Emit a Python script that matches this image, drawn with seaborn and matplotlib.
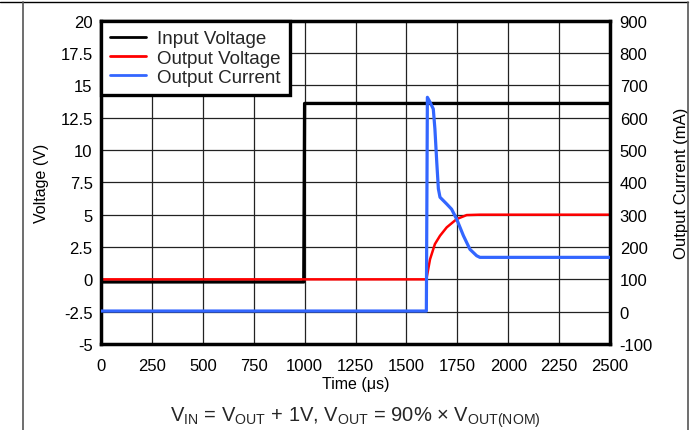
import matplotlib
matplotlib.use("Agg")
import matplotlib.pyplot as plt
import seaborn as sns
from matplotlib.lines import Line2D

# Data
t_in = [0, 996, 1000, 2500]                       # us
v_in = [-0.2, -0.2, 13.6, 13.6]                   # V

t_out = [0, 1598, 1616, 1640, 1665, 1698, 1747, 1796, 1861, 2500]
v_out = [0, 0, 1.55, 2.73, 3.37, 4.02, 4.66, 4.97, 5.0, 5.0]

t_cur = [0, 1598, 1603, 1616, 1632, 1640, 1649, 1657, 1665, 1698, 1722,
         1747, 1780, 1812, 1845, 1861, 2500]
i_cur = [2, 2, 663, 648, 627, 565, 463, 380, 354, 333, 317,
         286, 235, 193, 173, 168, 168]             # mA

v_ticks = [-5, -2.5, 0, 2.5, 5, 7.5, 10, 12.5, 15, 17.5, 20]
i_ticks = list(range(-100, 901, 100))
t_ticks = list(range(0, 2501, 250))

sns.set_theme(style="white")
plt.rcParams['font.family'] = ['Liberation Sans', 'DejaVu Sans']
plt.rcParams['axes.unicode_minus'] = False
plt.rcParams['mathtext.fontset'] = 'custom'
plt.rcParams['mathtext.rm'] = 'Liberation Sans'
plt.rcParams['mathtext.it'] = 'Liberation Sans'

fig = plt.figure(figsize=(6.97, 4.31), dpi=100)
ax = fig.add_axes([0.1449, 0.1995, 0.7303, 0.7502])
ax2 = ax.twinx()

sns.lineplot(x=t_in, y=v_in, ax=ax, color='black', linewidth=2.4, label='Input Voltage')
sns.lineplot(x=t_out, y=v_out, ax=ax, color='#ff0000', linewidth=1.8, label='Output Voltage')
sns.lineplot(x=t_cur, y=i_cur, ax=ax2, color='#3366ff', linewidth=2.3, label='Output Current')

ax.set_xlim(0, 2500)
ax.set_ylim(-5, 20)
ax2.set_ylim(-100, 900)
ax.set_xticks(t_ticks)
ax.set_yticks(v_ticks)
ax.set_yticklabels([f'{v:g}' for v in v_ticks])
ax2.set_yticks(i_ticks)

ax.grid(True, color='#222222', linewidth=0.9)
ax.set_axisbelow(True)
for s in ax.spines.values():
    s.set_linewidth(2.5)
    s.set_color('black')
for s in ax2.spines.values():
    s.set_visible(False)

ax.tick_params(axis='y', length=0, labelsize=12, colors='black', pad=6)
ax.tick_params(axis='x', length=0, labelsize=12, colors='black', pad=10)
ax2.tick_params(axis='y', length=0, labelsize=12, colors='black', pad=7)

ax.set_xlabel('Time (μs)', fontsize=11.5, color='black', labelpad=2)
ax.set_ylabel('Voltage (V)', fontsize=11.5, color='black', labelpad=8)
ax2.set_ylabel('Output Current (mA)', fontsize=12, color='black', labelpad=15)

# one legend holding all three traces
handles = ax.get_legend().legend_handles + ax2.get_legend().legend_handles
labels = ['Input Voltage', 'Output Voltage', 'Output Current']
ax.get_legend().remove()
ax2.get_legend().remove()
leg = ax2.legend(handles, labels, loc='upper left', borderaxespad=0, fontsize=13.5,
                 frameon=True, fancybox=False, framealpha=1, handlelength=1.9,
                 handletextpad=0.6, labelspacing=0.12, borderpad=0.5)
leg.get_frame().set_edgecolor('black')
leg.get_frame().set_linewidth(2.4)
for h in leg.legend_handles:
    h.set_linewidth(2)

fig.text(0.51, 0.03,
         r'V$_{\mathrm{IN}}$ = V$_{\mathrm{OUT}}$ + 1V, V$_{\mathrm{OUT}}$ = 90% × V$_{\mathrm{OUT(NOM)}}$',
         ha='center', va='center', fontsize=14.5)

# page frame lines around the figure
fig.add_artist(Line2D([0, 688 / 697], [1 - 3 / 431] * 2, color='black', linewidth=1))
fig.add_artist(Line2D([23 / 697] * 2, [0, 1 - 3 / 431], color='#555555', linewidth=1.2))
fig.add_artist(Line2D([688 / 697] * 2, [0, 1 - 3 / 431], color='#555555', linewidth=1.2))

fig.savefig('out.png', dpi=100)
